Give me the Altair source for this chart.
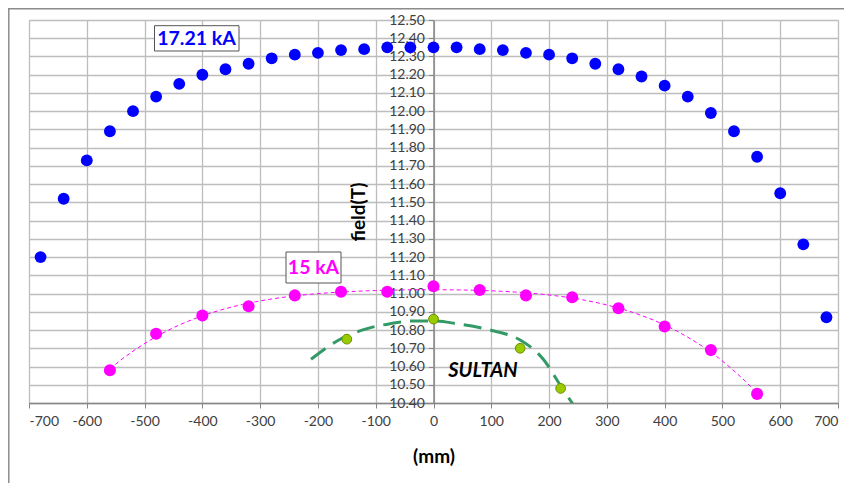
import altair as alt
import pandas as pd

# 17.21 kA series (blue)
blue_x = [-680, -640, -600, -560, -520, -480, -440, -400, -360, -320, -280, -240, -200, -160, -120, -80, -40,
          0, 40, 80, 120, 160, 200, 240, 280, 320, 360, 400, 440, 480, 520, 560, 600, 640, 680]
blue_y = [11.20, 11.52, 11.73, 11.89, 12.00, 12.08, 12.15, 12.20, 12.23, 12.26, 12.29, 12.31, 12.32, 12.335, 12.34, 12.35, 12.35,
          12.35, 12.35, 12.34, 12.335, 12.32, 12.31, 12.29, 12.26, 12.23, 12.19, 12.14, 12.08, 11.99, 11.89, 11.75, 11.55, 11.27, 10.87]

# 15 kA series (magenta)
mag_x = [-560, -480, -400, -320, -240, -160, -80, 0, 80, 160, 240, 320, 400, 480, 560]
mag_y = [10.58, 10.78, 10.88, 10.93, 10.99, 11.01, 11.01, 11.04, 11.02, 10.99, 10.98, 10.92, 10.82, 10.69, 10.45]

# SULTAN points (green)
sul_x = [-150, 0, 150, 220]
sul_y = [10.75, 10.86, 10.70, 10.48]

# SULTAN dashed curve
sulc_x = [-212, -167, -118, -75, -35, 0, 40, 98, 150, 190, 219, 242]
sulc_y = [10.64, 10.74, 10.805, 10.835, 10.85, 10.85, 10.835, 10.80, 10.745, 10.64, 10.50, 10.39]

x_ticks = list(range(-700, 701, 100))
y_ticks = [round(10.4 + 0.1 * i, 2) for i in range(22)]

blue = pd.DataFrame({"x": blue_x, "y": blue_y})
mag = pd.DataFrame({"x": mag_x, "y": mag_y})
sul = pd.DataFrame({"x": sul_x, "y": sul_y})
sulc = pd.DataFrame({"x": sulc_x, "y": sulc_y})

W, H = 809, 383
FONT = "Lato"

xenc = alt.X("x:Q", scale=alt.Scale(domain=[-700, 700], nice=False, zero=False),
             axis=alt.Axis(values=x_ticks, labelExpr="'' + datum.value", title="(mm)",
                           grid=True, gridColor="#bdbdbd", gridWidth=1.3,
                           domainColor="#868686", domainWidth=1.5, tickColor="#868686", tickSize=5,
                           labelFont=FONT, labelFontSize=14, labelColor="#404040", labelPadding=6,
                           titleFont=FONT, titleFontSize=19, titleFontWeight="bold", titleColor="black",
                           titlePadding=19))
yenc = alt.Y("y:Q", scale=alt.Scale(domain=[10.4, 12.5], nice=False, zero=False),
             axis=alt.Axis(values=y_ticks, format=".2f", title="field(T)", offset=-404.5,
                           grid=True, gridColor="#bdbdbd", gridWidth=1.3,
                           domainColor="#868686", domainWidth=1.5, tickColor="#868686", tickSize=5,
                           labelFont=FONT, labelFontSize=14, labelColor="#404040", labelPadding=4,
                           titleFont=FONT, titleFontSize=19, titleFontWeight="bold", titleColor="black",
                           titlePadding=20))

blue_pts = alt.Chart(blue).mark_circle(size=140, color="#0000FF", opacity=1).encode(x=xenc, y=yenc)

mag_trend = alt.Chart(mag).transform_regression("x", "y", method="poly", order=4, extent=[-560, 560]).mark_line(
    color="#FF00FF", strokeWidth=1, strokeDash=[4, 3]).encode(x=xenc, y=yenc)
mag_pts = alt.Chart(mag).mark_circle(size=145, color="#FF00FF", opacity=1).encode(x=xenc, y=yenc)

sul_curve = alt.Chart(sulc).mark_line(color="#339966", strokeWidth=3, strokeDash=[18, 9],
                                      interpolate="monotone", clip=True).encode(x=xenc, y=yenc)
sul_pts = alt.Chart(sul).mark_point(size=95, filled=True, fill="#99CC00", stroke="#6B8E00",
                                    strokeWidth=1, opacity=1).encode(x=xenc, y=yenc)

# annotation boxes and texts
box_df = pd.DataFrame({"x1": [125.5, 257], "x2": [210, 312], "y1": [5.7, 232], "y2": [31, 263]})
boxes = alt.Chart(box_df).mark_rect(fill="white", stroke="#555555", strokeWidth=1).encode(
    x=alt.X("x1:Q", scale=None), x2="x2:Q", y=alt.Y("y1:Q", scale=None), y2="y2:Q")

lab_df = pd.DataFrame({"t": ["17.21 kA", "15 kA"], "px": [167.5, 284.5], "py": [19, 248],
                       "c": ["#0000FF", "#FF00FF"]})
labels = alt.Chart(lab_df).mark_text(font=FONT, fontSize=19.5, fontWeight="bold", baseline="middle",
                                     align="center").encode(
    x=alt.X("px:Q", scale=None), y=alt.Y("py:Q", scale=None), text="t:N",
    color=alt.Color("c:N", scale=None))

sultan = alt.Chart(pd.DataFrame({"t": ["SULTAN"]})).mark_text(
    font=FONT, fontSize=20, fontWeight="bold", fontStyle="italic", color="black",
    baseline="middle", align="center").encode(x=alt.value(454), y=alt.value(351), text="t:N")

# outer chart-area border (left and top)
border_left = alt.Chart(pd.DataFrame({"a": [0]})).mark_rule(color="#8c8c8c", strokeWidth=1.5, clip=False).encode(
    x=alt.value(-20.2), y=alt.value(-12), y2=alt.value(H + 80))
border_top = alt.Chart(pd.DataFrame({"a": [0]})).mark_rule(color="#8c8c8c", strokeWidth=1.5, clip=False).encode(
    x=alt.value(-21), x2=alt.value(W + 6), y=alt.value(-11.2))

chart = alt.layer(
    blue_pts, mag_trend, sul_curve, mag_pts, sul_pts, boxes, labels, sultan, border_left, border_top
).properties(
    width=W, height=H,
    autosize=alt.AutoSizeParams(type="none"),
    padding={"left": 21, "top": 12, "right": 6, "bottom": 80},
).configure_view(stroke=None).configure(background="white")

chart.save("out.html", embed_options={"renderer": "svg", "actions": False})
